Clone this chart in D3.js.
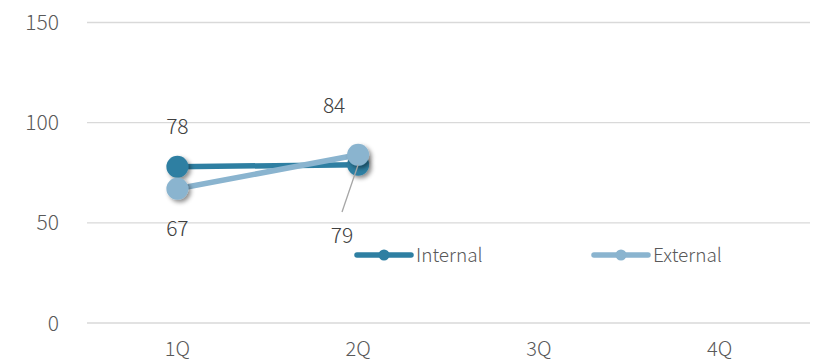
<!DOCTYPE html>
<html><head><meta charset="utf-8">
<script src="https://cdn.jsdelivr.net/npm/d3@7"></script>
<style>body{margin:0;background:#fff}svg{display:block}text{font-family:"Noto Sans CJK JP","Noto Sans",sans-serif;font-weight:300}</style>
</head><body><svg id="c" width="814" height="361"></svg>
<script>
const categories = ["1Q","2Q","3Q","4Q"];
const internalValues = [78, 79];
const externalValues = [67, 84];
const yTicks = [0, 50, 100, 150];
const seriesNames = ["Internal","External"];
const colors = ["#2e7fa2","#8ab4cf"];

const svg = d3.select("#c");
const defs = svg.append("defs");
const f = defs.append("filter").attr("id","sh").attr("x","-50%").attr("y","-50%").attr("width","200%").attr("height","200%");
f.append("feDropShadow").attr("dx",2.5).attr("dy",2.5).attr("stdDeviation",2).attr("flood-color","#000").attr("flood-opacity",0.45);

const x = d3.scaleBand().domain(categories).range([87,810]);
const y = d3.scaleLinear().domain([0,150]).range([323,22.5]);
const cx = c => x(c) + x.bandwidth()/2;

const g = svg.append("g");
yTicks.forEach(t => {
  g.append("line").attr("x1",87).attr("x2",810).attr("y1",y(t)).attr("y2",y(t)).attr("stroke","#d9d9d9").attr("stroke-width",1.3);
  g.append("text").attr("x",59).attr("y",y(t)).attr("dy","0.36em").attr("text-anchor","end").attr("font-size",21).attr("fill","#595959").text(t);
});
categories.forEach(c => {
  g.append("text").attr("x",cx(c)).attr("y",356).attr("text-anchor","middle").attr("font-size",20).attr("fill","#595959").text(c);
});

const series = [internalValues, externalValues];
const line = d3.line().x((d,i)=>cx(categories[i])).y(d=>y(d));
series.forEach((vals,si) => {
  g.append("path").attr("d",line(vals)).attr("fill","none").attr("stroke",colors[si]).attr("stroke-width",5.5).attr("stroke-linecap","round");
  vals.forEach((v,i) => {
    g.append("circle").attr("cx",cx(categories[i])).attr("cy",y(v)).attr("r",11).attr("fill",colors[si]).attr("filter","url(#sh)");
  });
});

// leader line for 79
g.append("line").attr("x1",342).attr("y1",212).attr("x2",cx("2Q")).attr("y2",y(internalValues[1])).attr("stroke","#a6a6a6").attr("stroke-width",1.3);

const labels = [
  {t:internalValues[0], x:cx("1Q"), y:y(internalValues[0])-40},
  {t:externalValues[0], x:cx("1Q"), y:y(externalValues[0])+40},
  {t:externalValues[1], x:cx("2Q")-24, y:y(externalValues[1])-49},
  {t:internalValues[1], x:342, y:y(internalValues[1])+71}
];
labels.forEach(l => g.append("text").attr("x",l.x).attr("y",l.y).attr("dy","0.36em").attr("text-anchor","middle").attr("font-size",21).attr("fill","#404040").text(l.t));

// legend
const leg = [{x:357},{x:594}];
seriesNames.forEach((n,i) => {
  const lx = leg[i].x;
  g.append("line").attr("x1",lx).attr("x2",lx+54).attr("y1",255).attr("y2",255).attr("stroke",colors[i]).attr("stroke-width",5.5).attr("stroke-linecap","round");
  g.append("circle").attr("cx",lx+27).attr("cy",255).attr("r",5.5).attr("fill",colors[i]);
  g.append("text").attr("x",lx+59).attr("y",255).attr("dy","0.36em").attr("font-size",19).attr("fill","#595959").text(n);
});
</script></body></html>
